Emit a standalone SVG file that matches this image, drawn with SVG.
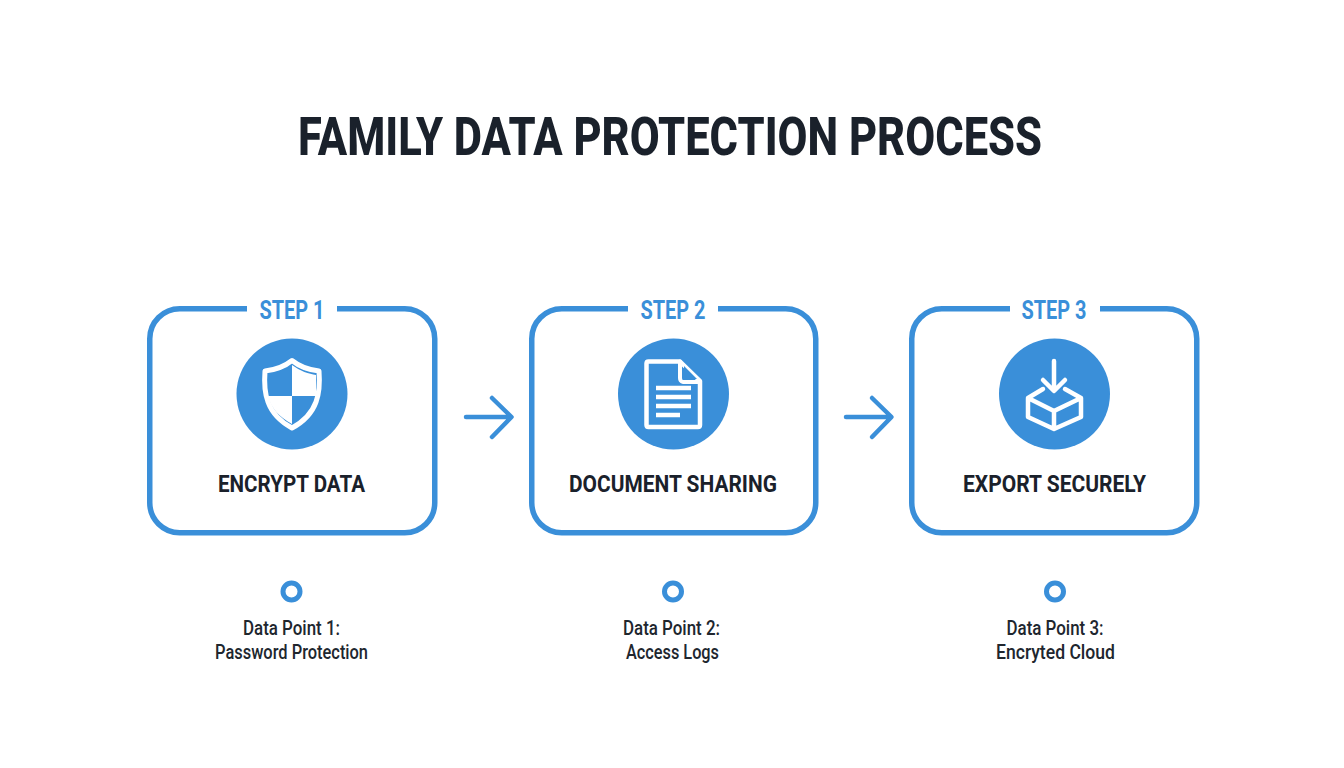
<svg xmlns="http://www.w3.org/2000/svg" width="1344" height="768" viewBox="0 0 1344 768">
<style>
text{font-family:"Roboto","Liberation Sans",sans-serif;text-anchor:middle}
.title{font-size:54px;font-weight:800;fill:#1a212b}
.step{font-size:26px;font-weight:700;fill:#3a8fd9}
.name{font-size:24px;font-weight:700;fill:#1a212b}
.note{font-size:20px;font-weight:500;fill:#20262e}
.box{fill:none;stroke:#3a8fd9;stroke-width:5.500}
.gap{fill:#fff}
.disc{fill:#3a8fd9}
.ico{fill:none;stroke:#fff;stroke-width:4.500;stroke-linecap:round;stroke-linejoin:round}
.solid{fill:#fff}
.dot{fill:#fff;stroke:#3a8fd9;stroke-width:5}
.arrow{fill:none;stroke:#3a8fd9;stroke-width:4.500;stroke-linecap:round;stroke-linejoin:round}
</style>
<rect width="1344" height="768" fill="#fff"/>
<text id="title" class="title" x="670" y="154.500" textLength="744" lengthAdjust="spacingAndGlyphs">FAMILY DATA PROTECTION PROCESS</text>
<g id="node1">
<rect class="box" x="149.750" y="308.750" width="285" height="224" rx="30"/>
<rect class="gap" x="247" y="298" width="90" height="20"/>
<text class="step" x="292" y="319" textLength="65" lengthAdjust="spacingAndGlyphs">STEP 1</text>
<circle class="disc" cx="292" cy="394" r="55.500"/>
<path class="solid" d="M292 365C300 371 309 374 316 375V396H292ZM292 396V424C279 417 271 408 268 396Z"/>
<path class="ico" style="stroke-width:5" d="M292 360.500C300 367 310 370 319 371C320 384 319 394 316 402C312 413 303 422 292 428C281 422 272 413 268 402C265 394 264 384 265 371C274 370 284 367 292 360.500Z"/>
<text class="name" x="291.500" y="492" textLength="147" lengthAdjust="spacingAndGlyphs">ENCRYPT DATA</text>
<circle class="dot" cx="291.500" cy="591.500" r="8.500"/>
<text class="note" x="291.500" y="635" textLength="97" lengthAdjust="spacingAndGlyphs">Data Point 1:</text>
<text class="note" x="291.500" y="659" textLength="153" lengthAdjust="spacingAndGlyphs">Password Protection</text>
</g>
<g id="node2">
<rect class="box" x="531.750" y="308.750" width="284" height="224" rx="30"/>
<rect class="gap" x="628" y="298" width="90" height="20"/>
<text class="step" x="673" y="319" textLength="65" lengthAdjust="spacingAndGlyphs">STEP 2</text>
<circle class="disc" cx="673.500" cy="394" r="55.500"/>
<path class="ico" d="M648.500 361.500H680L700 381V425C700 426.500 699 427 698 427H648.500C647 427 646.500 426.500 646.500 425V363.500C646.500 362 647 361.500 648.500 361.500Z"/>
<path class="solid" d="M684 366L697 379H684Z" style="fill:#3a8fd9"/>
<path class="ico" style="stroke-width:4" d="M680 361.500V378C680 380 681 382 683 382H700"/>
<path class="ico" style="stroke-linecap:butt" d="M656 388H691M656 397H691M656 406H691M656 415H680"/>
<text class="name" x="673" y="492" textLength="208" lengthAdjust="spacingAndGlyphs">DOCUMENT SHARING</text>
<circle class="dot" cx="673" cy="591.500" r="8.500"/>
<text class="note" x="671.500" y="635" textLength="97" lengthAdjust="spacingAndGlyphs">Data Point 2:</text>
<text class="note" x="672.500" y="659" textLength="93" lengthAdjust="spacingAndGlyphs">Access Logs</text>
</g>
<g id="node3">
<rect class="box" x="911.750" y="308.750" width="285" height="224" rx="30"/>
<rect class="gap" x="1010" y="298" width="90" height="20"/>
<text class="step" x="1054" y="319" textLength="65" lengthAdjust="spacingAndGlyphs">STEP 3</text>
<circle class="disc" cx="1054.500" cy="394" r="55.500"/>
<path class="ico" d="M1054 361V390M1043 380L1054 391L1065 380"/>
<path class="ico" d="M1043 389L1028 398V417L1054 429L1081 417V398L1065 389M1028 398L1054 411L1081 398M1054 411V429"/>
<text class="name" x="1054.500" y="492" textLength="183" lengthAdjust="spacingAndGlyphs">EXPORT SECURELY</text>
<circle class="dot" cx="1055" cy="591.500" r="8.500"/>
<text class="note" x="1055" y="635" textLength="97" lengthAdjust="spacingAndGlyphs">Data Point 3:</text>
<text class="note" x="1055.500" y="659" textLength="119" lengthAdjust="spacingAndGlyphs">Encryted Cloud</text>
</g>
<g id="connectors">
<path class="arrow" d="M466 417H511M492 398L511.500 417L492 437"/>
<path class="arrow" d="M846 417H891M872 398L891.500 417L872 437"/>
</g>
</svg>
